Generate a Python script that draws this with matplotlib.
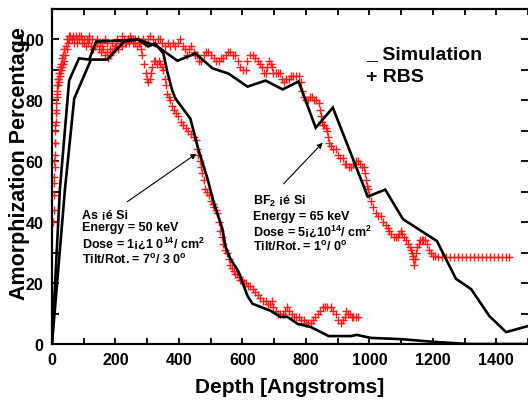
import matplotlib
matplotlib.use('Agg')
import matplotlib.pyplot as plt
from matplotlib.ticker import MultipleLocator

plt.rcParams['font.family'] = ['Liberation Sans', 'DejaVu Sans']
plt.rcParams['font.weight'] = 'bold'
plt.rcParams['mathtext.fontset'] = 'custom'
plt.rcParams['mathtext.rm'] = 'Liberation Sans:bold'
plt.rcParams['mathtext.bf'] = 'Liberation Sans:bold'
plt.rcParams['mathtext.it'] = 'Liberation Sans:bold'
plt.rcParams['mathtext.default'] = 'rm'

# ---------------- data ----------------
as_sim_x = [0, 25, 54, 85, 117, 139, 227, 272, 303, 325, 351, 363, 379, 389, 436, 461, 490, 509,
            537, 547, 562, 588, 616, 632, 657, 689, 720, 742, 774, 815, 872, 942, 960, 1005, 1100,
            1204, 1311, 1500]
as_sim_y = [0, 51, 86.5, 93.8, 93.4, 99.3, 99.7, 100, 97.7, 98.7, 95.4, 89.5, 83.2, 80.6, 74, 64,
            54.3, 46.7, 37.8, 31.9, 28, 23.7, 15.8, 13.2, 12.2, 10.9, 8.9, 8.9, 6.6, 5.6, 2.6, 2.6,
            3.0, 2.0, 1.6, 0.7, 0, 0]

bf2_sim_x = [0, 41, 70, 123, 174, 227, 272, 332, 395, 452, 506, 556, 616, 673, 727, 777, 831,
             885, 995, 1050, 1106, 1213, 1273, 1321, 1378, 1431, 1500]
bf2_sim_y = [0, 51, 80.6, 93.4, 93.4, 99.3, 100, 97.7, 93, 95.4, 90.5, 88.8, 84.5, 86.5, 83.6,
             86.2, 71, 77.6, 48.4, 50.7, 41, 33.8, 21.4, 18, 9.2, 3.9, 5.9]

as_rbs_x = [4, 5, 6, 7, 8, 9, 10, 11, 12, 13, 14, 15, 16, 18, 20, 22, 24, 26, 29, 32, 35, 38, 42,
            46, 50, 54, 58, 62, 66, 70, 75, 80, 85, 90, 95, 100, 106, 112, 118, 124, 130, 136, 142,
            148, 154, 160, 166, 172, 178, 184, 190, 196, 202, 208, 214, 220, 226, 232, 238, 244,
            250, 256, 262, 268, 274, 280, 285, 290, 295, 300, 304, 308, 312, 316, 320, 325, 330,
            336, 341, 346, 351, 355, 359, 363, 368, 373, 378, 383, 390, 398, 406, 414, 422, 430,
            438, 446, 453, 458, 461, 465, 469, 474, 478, 483, 488, 494, 500, 506, 511, 516, 521,
            525, 530, 535, 540, 546, 553, 558, 562, 568, 573, 578, 583, 588, 594, 600, 606, 612,
            618, 625, 632, 640, 648, 657, 665, 673, 680, 686, 692, 698, 705, 712, 720, 728, 735,
            742, 748, 755, 762, 770, 778, 786, 793, 800, 808, 815, 822, 830, 837, 845, 853, 860,
            868, 878, 886, 894, 902, 910, 916, 922, 926, 932, 938, 944, 950, 957, 963]
as_rbs_y = [40, 44, 49, 53, 58, 62, 66, 70, 73, 76, 79, 81, 83, 85, 87, 86, 88, 89, 90, 91, 92, 93,
            95, 97, 99, 100, 101, 100, 101, 100, 101, 99, 100, 101, 99, 100, 98, 99, 100, 98, 97,
            98, 99, 97, 96, 97, 95, 96, 94, 95, 96, 97, 98, 97, 99, 98, 100, 99, 100, 99, 100, 99,
            100, 98, 99, 97, 95, 92, 89, 87, 86, 87, 89, 91, 93, 93, 92, 93, 92, 91, 90, 87, 85,
            82, 81, 80, 78, 77, 76, 75, 73, 72, 71, 70, 69, 68, 67, 64, 62, 60, 58, 56, 54, 51, 50,
            49, 47, 46, 45, 44, 43, 40, 37, 35, 33, 31, 30, 28, 26, 25, 24, 23, 23, 22, 21, 21, 20,
            20, 19, 19, 18, 17, 16, 15, 14, 14, 13, 13, 14, 12, 11, 10, 10, 10, 11, 12, 11, 10, 9,
            9, 9, 8, 8, 7, 7, 7, 8, 9, 10, 11, 12, 12, 12, 12, 11, 10, 8, 7, 8, 9, 11, 10, 10, 9, 9,
            9, 9]

bf2_rbs_x = [5, 7, 9, 11, 13, 15, 17, 19, 21, 24, 27, 30, 34, 38, 43, 48, 55, 62, 70, 78, 86, 94,
             102, 110, 118, 126, 134, 142, 150, 158, 166, 174, 182, 190, 198, 206, 214, 222, 230,
             238, 246, 254, 262, 270, 278, 286, 294, 302, 310, 318, 326, 334, 341, 348, 356, 364,
             372, 380, 388, 396, 404, 412, 420, 426, 432, 438, 446, 452, 458, 464, 470, 478, 486,
             493, 500, 509, 517, 525, 532, 540, 548, 556, 562, 570, 578, 586, 594, 602, 610, 616,
             624, 632, 640, 648, 656, 663, 668, 673, 678, 684, 689, 694, 698, 705, 712, 720, 726,
             730, 738, 746, 753, 761, 769, 777, 784, 788, 793, 799, 806, 813, 820, 827, 833, 840,
             843, 847, 850, 853, 858, 863, 866, 869, 874, 878, 885, 894, 900, 908, 916, 922, 928,
             935, 942, 950, 957, 964, 970, 976, 983, 986, 989, 992, 995, 1000, 1005, 1012, 1021,
             1028, 1036, 1044, 1052, 1058, 1062, 1068, 1077, 1084, 1090, 1095, 1100, 1104, 1109,
             1116, 1122, 1127, 1131, 1134, 1137, 1139, 1141, 1143, 1146, 1150, 1155, 1160, 1165,
             1170, 1176, 1182, 1188, 1194, 1200, 1207, 1216, 1229, 1241, 1254, 1267, 1279, 1292,
             1304, 1317, 1330, 1342, 1355, 1368, 1380, 1393, 1406, 1418, 1431, 1441]
bf2_rbs_y = [55, 60, 66, 72, 77, 82, 85, 87, 89, 91, 92, 94, 95, 97, 98, 100, 101, 100, 99, 100,
             101, 100, 99, 100, 101, 100, 98, 100, 99, 98, 100, 99, 97, 99, 98, 100, 99, 101, 99,
             100, 101, 100, 99, 100, 99, 100, 99, 100, 101, 100, 99, 100, 100, 99, 98, 99, 98, 99,
             98, 99, 100, 98, 97, 95, 97, 98, 96, 95, 95, 93, 93, 95, 96, 96, 95, 94, 93, 93, 94,
             94, 95, 96, 96, 95, 95, 93, 91, 90, 90, 93, 95, 95, 94, 93, 92, 91, 89, 89, 91, 93, 92,
             91, 89, 89, 89, 89, 87, 86, 87, 87, 88, 88, 88, 88, 86, 83, 81, 80, 80, 81, 81, 80, 80,
             79, 77, 75, 73, 72, 72, 71, 70, 68, 66, 65, 64, 64, 62, 61, 61, 59, 59, 58, 58, 59, 60,
             60, 59, 58, 58, 56, 54, 52, 51, 49, 47, 45, 43, 42, 42, 40, 39, 38, 37, 36, 35, 35, 35,
             36, 37, 36, 35, 34, 33, 32, 31, 30, 29, 28, 26, 28, 30, 32, 33, 34, 34, 34, 34, 33, 31,
             30, 29, 29, 28.6, 28.6, 28.6, 28.6, 28.6, 28.6, 28.6, 28.6, 28.6, 28.6, 28.6, 28.6,
             28.6, 28.6, 28.6, 28.6, 28.6, 28.6, 28.6]

x_ticks = [0, 200, 400, 600, 800, 1000, 1200, 1400]
y_ticks = [0, 20, 40, 60, 80, 100]

# ---------------- figure ----------------
fig = plt.figure(figsize=(5.28, 4.02), dpi=100)
ax = fig.add_axes([52 / 528, 57 / 402, 476 / 528, 335 / 402])

mk = dict(linestyle='none', marker='+', color='#ff1a1a', markersize=5.5, markeredgewidth=1.0)
ax.plot(as_rbs_x, as_rbs_y, **mk, zorder=2)
ax.plot(bf2_rbs_x, bf2_rbs_y, **mk, zorder=2)
ax.plot(as_sim_x, as_sim_y, color='black', lw=1.9, zorder=3, solid_joinstyle='miter')
ax.plot(bf2_sim_x, bf2_sim_y, color='black', lw=1.9, zorder=3, solid_joinstyle='miter')

ax.set_xlim(0, 1500)
ax.set_ylim(0, 110)
ax.set_xticks(x_ticks)
ax.set_yticks(y_ticks)
ax.xaxis.set_minor_locator(MultipleLocator(100))
ax.yaxis.set_minor_locator(MultipleLocator(10))
ax.tick_params(axis='both', which='both', direction='in', top=True, right=True, width=1.3)
ax.tick_params(axis='x', which='both', length=4)
ax.tick_params(axis='y', which='both', length=5)
ax.tick_params(axis='x', which='major', labelsize=11.5, pad=6)
ax.tick_params(axis='y', which='major', labelsize=11.5, pad=6)
for lab in ax.get_xticklabels() + ax.get_yticklabels():
    lab.set_fontweight('bold')

for s in ['left', 'bottom', 'top']:
    ax.spines[s].set_linewidth(1.6)
ax.spines['right'].set_visible(False)

ax.set_xlabel('Depth [Angstroms]', fontsize=15, fontweight='bold')
ax.xaxis.set_label_coords(0.5, -0.098)
ax.set_ylabel('Amorphization Percentage', fontsize=15.5, fontweight='bold')
ax.yaxis.set_label_coords(-0.046, 0.543)

# legend-like text
ax.text(989, 93.75, '_ Simulation', fontsize=14, fontweight='bold', va='baseline', ha='left')
ax.text(989, 86.2, '+ RBS', fontsize=14, fontweight='bold', va='baseline', ha='left')

# As annotation block
fs = 9
ax.text(95, 41.4, 'As ¡é Si', fontsize=fs, fontweight='bold', va='baseline')
ax.text(95, 37.5, 'Energy = 50 keV', fontsize=fs, fontweight='bold', va='baseline')
ax.text(95, 31.9, 'Dose = 1¡¿1 0$^{14}$/ cm$^{2}$', fontsize=fs, fontweight='bold', va='baseline')
ax.text(95, 26.6, 'Tilt/Rot. = 7$^{o}$/ 3 0$^{o}$', fontsize=fs, fontweight='bold', va='baseline')

# BF2 annotation block
ax.text(632, 46.1, 'BF$_{2}$ ¡é Si', fontsize=fs, fontweight='bold', va='baseline')
ax.text(632, 41.1, 'Energy = 65 keV', fontsize=fs, fontweight='bold', va='baseline')
ax.text(632, 35.9, 'Dose = 5¡¿10$^{14}$/ cm$^{2}$', fontsize=fs, fontweight='bold', va='baseline')
ax.text(632, 30.9, 'Tilt/Rot. = 1$^{o}$/ 0$^{o}$', fontsize=fs, fontweight='bold', va='baseline')

arrow = dict(arrowstyle='-|>', color='black', lw=0.8, mutation_scale=8, shrinkA=0, shrinkB=0)
ax.annotate('', xy=(455, 62.5), xytext=(237, 46.7), arrowprops=arrow)
ax.annotate('', xy=(853, 66.1), xytext=(730, 52.6), arrowprops=arrow)

fig.savefig('out.png', dpi=100)
